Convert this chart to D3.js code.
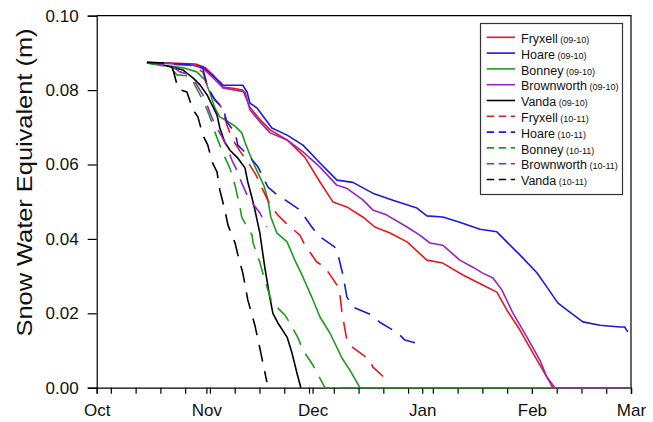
<!DOCTYPE html>
<html>
<head>
<meta charset="utf-8">
<script src="https://cdn.jsdelivr.net/npm/d3@7"></script>
<style>
  body { margin: 0; background: #fff; }
  svg { display: block; font-family: "Liberation Sans", Arial, Helvetica, sans-serif; }
</style>
</head>
<body>
<svg id="chart" width="653" height="422"></svg>
<script>
// Snow water equivalent (m) per site; x = days after 1 October of each season.
const fryxell0910 = [[14.2,0.0874],[20.7,0.0873],[28,0.0870],[30.6,0.0861],[33,0.0840],[35.7,0.0808],[38.5,0.0805],[41.3,0.0800],[43.3,0.0754],[46,0.0722],[49.0,0.0693],[53.8,0.0666],[58.8,0.0620],[63.1,0.0553],[66.8,0.0499],[70.7,0.0486],[75.2,0.0459],[78.6,0.0432],[82.9,0.0416],[87.7,0.0392],[93.3,0.0343],[97.8,0.0335],[103.5,0.0303],[109.1,0.0276],[113.1,0.0257],[115.9,0.0209],[119.6,0.0155],[123.3,0.0093],[127.2,0.0029],[128.9,0],[151,0]];
const hoare0910 = [[14.2,0.0875],[26.4,0.0869],[30,0.0862],[34.8,0.0822],[35.7,0.0813],[41.3,0.0813],[42.5,0.0795],[43.3,0.0765],[45.3,0.0752],[49.5,0.0698],[53.8,0.0679],[58.3,0.0652],[63.1,0.0604],[67.9,0.0558],[72.4,0.0552],[78.0,0.0523],[83.7,0.0504],[90.5,0.0483],[93.3,0.0462],[97.8,0.0459],[102.6,0.0445],[108.3,0.0426],[113.1,0.0419],[115.9,0.0392],[119.6,0.0357],[124.4,0.0309],[127.2,0.0271],[130.3,0.0228],[133.7,0.0203],[137.4,0.0177],[142.2,0.0168],[147.9,0.0163],[149.2,0.0163],[150.1,0.0150]];
const bonney0910 = [[14.2,0.0873],[20.7,0.0865],[24.9,0.0859],[28.3,0.0849],[30.6,0.0827],[32.0,0.0792],[33.4,0.0752],[34.8,0.0728],[36.8,0.0717],[39.1,0.0703],[41.0,0.0685],[42.2,0.0652],[43.9,0.0612],[45.6,0.0577],[47.3,0.0542],[48.4,0.0505],[49.2,0.0459],[50.9,0.0416],[53.8,0.0392],[56.0,0.0343],[58.3,0.0297],[60.8,0.0243],[63.1,0.0190],[65.9,0.0147],[69.3,0.0080],[71.5,0.0048],[74.4,0],[151,0]];
const brownworth0910 = [[14.2,0.0874],[26.4,0.0869],[30,0.0859],[33,0.0832],[35.7,0.0806],[41.9,0.0795],[43.3,0.0747],[46,0.0716],[49.0,0.0685],[53.8,0.0666],[58.3,0.0634],[63.1,0.0593],[67.9,0.0544],[70.7,0.0536],[75.2,0.0505],[78.0,0.0478],[82.0,0.0464],[87.7,0.0432],[91.3,0.0410],[94.2,0.0389],[97.8,0.0383],[102.6,0.0343],[106.3,0.0324],[109.1,0.0308],[112.0,0.0295],[114.5,0.0263],[117.6,0.0201],[121.6,0.0136],[125.2,0.0075],[127.2,0.0029],[129.5,0],[151,0]];
const vanda0910 = [[14.2,0.0874],[19.9,0.0865],[24.4,0.0854],[27.2,0.0833],[29.2,0.0814],[31.2,0.0787],[32.6,0.0760],[34.0,0.0733],[34.8,0.0698],[36.2,0.0660],[37.6,0.0639],[39.9,0.0617],[41.9,0.0591],[42.7,0.0553],[43.9,0.0510],[44.7,0.0478],[46.1,0.0416],[47.5,0.0324],[48.9,0.0244],[49.8,0.0200],[51.2,0.0174],[53.8,0.0136],[55.2,0.0093],[56.6,0.0039],[57.7,0]];
const fryxell1011 = [[14.2,0.0874],[26.4,0.0866],[30.0,0.0849],[32.0,0.0792],[35.4,0.0752],[36.8,0.0706],[38.2,0.0671],[40.5,0.0636],[42.7,0.0607],[45.0,0.0572],[47.0,0.0531],[49.0,0.0491],[51.2,0.0464],[53.2,0.0445],[57.4,0.0410],[58.8,0.0384],[62.2,0.0338],[64.5,0.0324],[67.9,0.0276],[68.7,0.0254],[69.3,0.0203],[70.7,0.0128],[72.1,0.0110],[77.2,0.0075],[78.0,0.0056],[82.0,0.0021]];
const hoare1011 = [[14.2,0.0874],[26.4,0.0869],[30.0,0.0859],[31.2,0.0813],[33.4,0.0773],[35.7,0.0752],[36.8,0.0714],[39.1,0.0685],[39.9,0.0652],[43.3,0.0620],[45.6,0.0593],[48.4,0.0539],[50.4,0.0523],[54.6,0.0496],[57.4,0.0478],[60.8,0.0432],[62.5,0.0410],[67.3,0.0378],[68.2,0.0357],[69.6,0.0303],[70.7,0.0244],[72.4,0.0217],[77.8,0.0195],[80.0,0.0176],[85.1,0.0147],[87.1,0.0128],[91.3,0.0117]];
const bonney1011 = [[14.2,0.0873],[20.7,0.0862],[22.7,0.0841],[26.4,0.0838],[29.2,0.0787],[31.2,0.0747],[32.6,0.0712],[33.4,0.0687],[34.8,0.0652],[36.2,0.0620],[37.6,0.0591],[39.1,0.0544],[39.9,0.0510],[40.5,0.0485],[41.0,0.0458],[43.9,0.0410],[44.2,0.0389],[46.1,0.0337],[47.5,0.0289],[49.5,0.0230],[53.2,0.0195],[54.6,0.0174],[56.9,0.0134],[58.3,0.0101],[61.1,0.0061],[64.5,0],[74,0]];
const brownworth1011 = [[14.2,0.0874],[20.7,0.0867],[23.5,0.0849],[26.4,0.0841],[28.3,0.0814],[30.0,0.0787],[31.2,0.0760],[32.6,0.0725],[34.0,0.0698],[35.4,0.0674],[36.8,0.0647],[38.2,0.0612],[39.6,0.0585],[41.0,0.0550],[42.5,0.0518],[43.9,0.0497],[46.1,0.0470],[48.1,0.0432]];
const vanda1011 = [[14.2,0.0874],[20.7,0.0873],[21.6,0.0854],[23.0,0.0803],[25.5,0.0795],[27.2,0.0747],[28.6,0.0728],[30.0,0.0679],[31.4,0.0652],[32.6,0.0607],[34.0,0.0580],[34.8,0.0531],[36.2,0.0478],[37.1,0.0437],[39.1,0.0389],[39.9,0.0357],[41.3,0.0308],[42.7,0.0236],[44.7,0.0168],[46.4,0.0093],[48.1,0.0015]];

const siteNames = ["Fryxell", "Hoare", "Bonney", "Brownworth", "Vanda"];
const seasons = ["09-10", "10-11"];
const yTickValues = [0, 0.02, 0.04, 0.06, 0.08, 0.10];
const yTitle = "Snow Water Equivalent (m)";

const seriesValues = [
  [fryxell0910, hoare0910, bonney0910, brownworth0910, vanda0910],
  [fryxell1011, hoare1011, bonney1011, brownworth1011, vanda1011]
];

// styling
const siteColors = ["#e8171d", "#1a1ae0", "#1f9a1f", "#9524c4", "#000000"];
const seasonDash = [null, "17,10"];
const legendDash = [null, "7.5,4.5"];

const svg = d3.select("#chart");
const plotLeft = 96.7, plotRight = 631, plotTop = 15.7, plotBottom = 387.7;

const seasonStart = Date.UTC(2009, 9, 1);
const x = d3.scaleUtc()
  .domain([new Date(seasonStart), new Date(Date.UTC(2010, 2, 1))])
  .range([plotLeft, plotRight]);
const y = d3.scaleLinear().domain([0, 0.1]).range([plotBottom, plotTop]);
const dayToDate = d => new Date(seasonStart + d * 864e5);

const line = d3.line()
  .x(d => x(dayToDate(d[0])))
  .y(d => y(d[1]));

// frame: top and right edges
svg.append("path")
  .attr("d", `M${plotLeft},${plotTop}H${plotRight}V${plotBottom}`)
  .attr("fill", "none").attr("stroke", "#000").attr("stroke-width", 1.2);

// y axis
const yAxis = svg.append("g")
  .attr("transform", `translate(${plotLeft},0)`)
  .call(d3.axisLeft(y).tickValues(yTickValues).tickFormat(d3.format(".2f")).tickSize(9).tickPadding(9));
// x axis: weekly minor ticks, monthly labelled ticks
const xMinor = svg.append("g")
  .attr("transform", `translate(0,${plotBottom})`)
  .call(d3.axisBottom(x).ticks(d3.utcMonday.every(1)).tickFormat("").tickSize(6));
const xAxis = svg.append("g")
  .attr("transform", `translate(0,${plotBottom})`)
  .call(d3.axisBottom(x).ticks(d3.utcMonth.every(1)).tickFormat(d3.utcFormat("%b")).tickSize(6).tickPadding(10));

[yAxis, xMinor, xAxis].forEach(g => {
  g.select(".domain").attr("stroke", "#000").attr("stroke-width", 1.2);
  g.selectAll(".tick line").attr("stroke", "#000").attr("stroke-width", 1.2);
  g.selectAll(".tick text").attr("fill", "#111").style("font-size", "17px");
});
xMinor.select(".domain").remove();

// y title
svg.append("text")
  .attr("transform", "translate(31.5,182.5) rotate(-90)")
  .attr("text-anchor", "middle")
  .style("font-size", "22px")
  .attr("textLength", 308)
  .attr("lengthAdjust", "spacingAndGlyphs")
  .attr("fill", "#111")
  .text(yTitle);

// series lines
const plot = svg.append("g");
seasons.forEach((season, s) => {
  siteNames.forEach((site, i) => {
    plot.append("path")
      .datum(seriesValues[s][i])
      .attr("d", line)
      .attr("fill", "none")
      .attr("stroke", siteColors[i])
      .attr("stroke-width", 1.6)
      .attr("stroke-linejoin", "round")
      .attr("stroke-dasharray", seasonDash[s]);
  });
});

// legend
const legend = svg.append("g");
legend.append("rect")
  .attr("x", 480.5).attr("y", 23.5).attr("width", 142).attr("height", 171)
  .attr("fill", "#fff").attr("stroke", "#333").attr("stroke-width", 1.2);
const legendRows = [];
seasons.forEach((season, s) => siteNames.forEach((site, i) => legendRows.push({ site, season, s, i })));
legendRows.forEach((r, k) => {
  const ry = 37.3 + k * 15.8;
  legend.append("line")
    .attr("x1", 486.7).attr("x2", 515).attr("y1", ry).attr("y2", ry)
    .attr("stroke", siteColors[r.i]).attr("stroke-width", 1.6)
    .attr("stroke-dasharray", legendDash[r.s]);
  const t = legend.append("text")
    .attr("x", 521).attr("y", ry).attr("dy", "0.36em")
    .attr("fill", "#111");
  t.append("tspan").style("font-size", "12.5px").text(r.site);
  t.append("tspan").style("font-size", "9px").text(" (" + r.season + ")");
});
</script>
</body>
</html>
